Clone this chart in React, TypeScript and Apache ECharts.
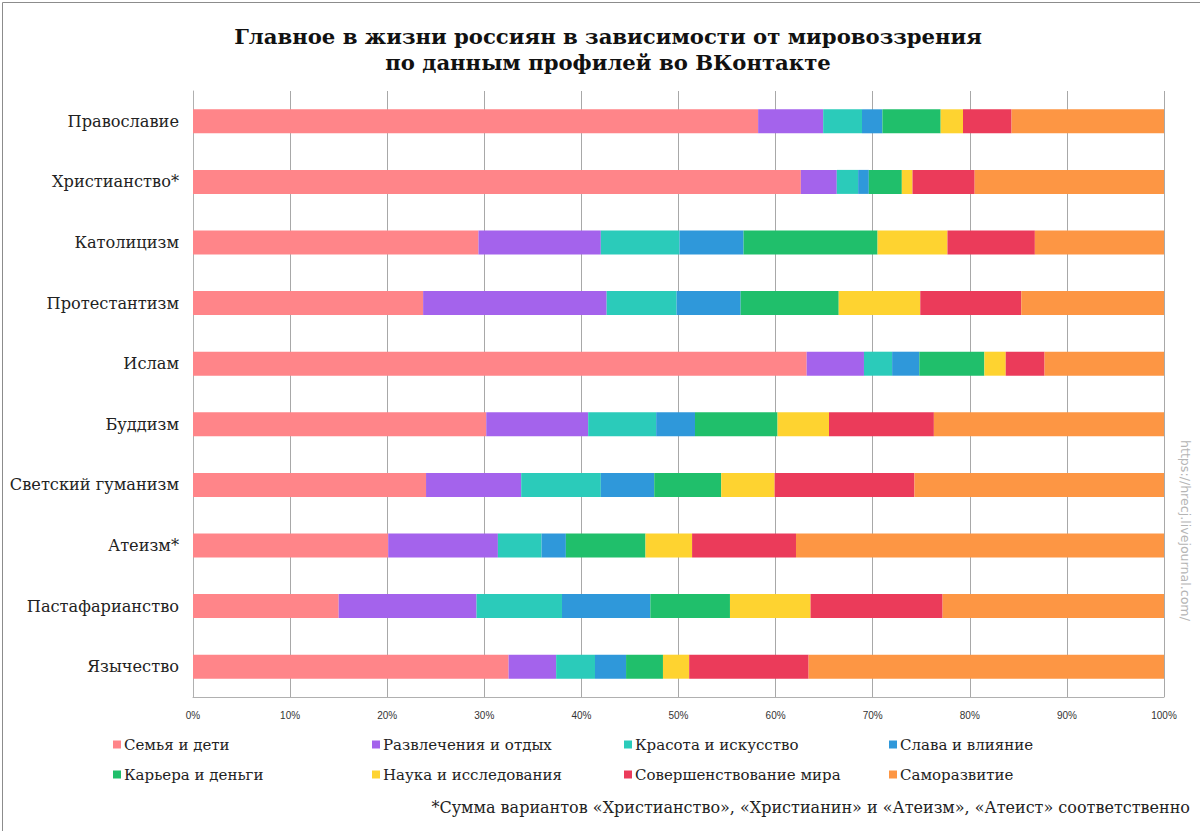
import React, { useEffect, useRef } from "react";
import * as echarts from "echarts";

const categories = [
  "Православие",
  "Христианство*",
  "Католицизм",
  "Протестантизм",
  "Ислам",
  "Буддизм",
  "Светский гуманизм",
  "Атеизм*",
  "Пастафарианство",
  "Язычество",
];

const seriesNames = [
  "Семья и дети",
  "Развлечения и отдых",
  "Красота и искусство",
  "Слава и влияние",
  "Карьера и деньги",
  "Наука и исследования",
  "Совершенствование мира",
  "Саморазвитие",
];

const colors = [
  "#FF8589",
  "#A463EC",
  "#2BCBBA",
  "#2F98DA",
  "#20BF6B",
  "#FED330",
  "#EB3B5A",
  "#FD9644",
];

const family = [58.2, 62.6, 29.4, 23.7, 63.2, 30.2, 24.0, 20.1, 15.0, 32.5];
const leisure = [6.7, 3.7, 12.6, 18.9, 5.9, 10.5, 9.8, 11.3, 14.2, 4.9];
const beauty = [4.0, 2.2, 8.1, 7.2, 2.9, 7.0, 8.2, 4.5, 8.8, 4.0];
const fame = [2.1, 1.1, 6.6, 6.6, 2.8, 4.0, 5.5, 2.5, 9.1, 3.2];
const career = [6.0, 3.4, 13.8, 10.1, 6.7, 8.5, 6.9, 8.2, 8.2, 3.8];
const science = [2.3, 1.1, 7.2, 8.4, 2.2, 5.3, 5.5, 4.8, 8.3, 2.7];
const worldImprove = [5.0, 6.4, 9.0, 10.4, 4.0, 10.8, 14.4, 10.7, 13.6, 12.3];
const selfDev = [15.7, 19.5, 13.3, 14.7, 12.3, 23.7, 25.7, 37.9, 22.8, 36.6];

const xTicks = [0, 10, 20, 30, 40, 50, 60, 70, 80, 90, 100];

const allValues = [family, leisure, beauty, fame, career, science, worldImprove, selfDev];

const SERIF = "'DejaVu Serif', 'Liberation Serif', serif";

export default function App() {
  const ref = useRef<HTMLDivElement>(null);

  useEffect(() => {
    if (!ref.current) return;
    const chart = echarts.init(ref.current, undefined, { renderer: "svg" });

    const legendColumns = [
      { left: 108, idx: [0, 4] },
      { left: 367, idx: [1, 5] },
      { left: 619, idx: [2, 6] },
      { left: 884, idx: [3, 7] },
    ];

    const option: any = {
      animation: false,
      backgroundColor: "#ffffff",
      title: {
        text: "Главное в жизни россиян в зависимости от мировоззрения\nпо данным профилей во ВКонтакте",
        left: 603,
        textAlign: "center",
        top: 18,
        textStyle: {
          fontFamily: SERIF,
          fontWeight: "bold",
          fontSize: 21.2,
          lineHeight: 26,
          color: "#111",
        },
      },
      grid: { left: 193, right: 36, top: 91, bottom: 134, containLabel: false },
      xAxis: {
        type: "value",
        min: 0,
        max: 100,
        interval: 10,
        axisLine: { show: true, lineStyle: { color: "#b0b0b0", width: 1 } },
        axisTick: { show: false },
        splitLine: { show: true, lineStyle: { color: "#a8a8a8", width: 1 } },
        axisLabel: {
          margin: 13,
          fontFamily: "'Liberation Sans Narrow', 'Liberation Sans', sans-serif",
          fontSize: 10,
          color: "#333",
          formatter: (v: number) => (xTicks.includes(v) ? v + "%" : ""),
        },
      },
      yAxis: {
        type: "category",
        data: categories,
        inverse: true,
        axisLine: { show: true, lineStyle: { color: "#b0b0b0", width: 1 } },
        axisTick: { show: false },
        splitLine: { show: false },
        axisLabel: {
          margin: 14,
          fontFamily: SERIF,
          fontSize: 16.2,
          color: "#222",
        },
      },
      legend: legendColumns.map((c) => ({
        orient: "vertical",
        left: c.left,
        top: 732,
        itemGap: 15,
        itemWidth: 8,
        itemHeight: 8,
        icon: "rect",
        selectedMode: false,
        data: c.idx.map((i) => seriesNames[i]),
        textStyle: { fontFamily: SERIF, fontSize: 15, color: "#222", padding: [0, 0, 0, -2] },
      })),
      series: seriesNames.map((name, i) => ({
        name,
        type: "bar",
        stack: "total",
        barWidth: 24,
        itemStyle: { color: colors[i] },
        emphasis: { disabled: true },
        data: allValues[i],
      })),
      graphic: [
        {
          type: "rect",
          left: 0,
          top: 0,
          shape: { width: 1199, height: 830 },
          style: { fill: "none", stroke: "#8c8c8c", lineWidth: 1 },
          silent: true,
        },
        {
          type: "text",
          right: 10,
          top: 799,
          style: {
            text: "*Сумма вариантов «Христианство», «Христианин» и «Атеизм», «Атеист» соответственно",
            fontFamily: SERIF,
            fontSize: 16,
            fill: "#222",
          },
        },
        {
          type: "text",
          x: 1185,
          y: 440,
          rotation: -Math.PI / 2,
          style: {
            text: "https://hrecj.livejournal.com/",
            fontFamily: "'DejaVu Sans', sans-serif",
            fontSize: 12.6,
            fill: "#b5b5b5",
            textAlign: "left",
            textVerticalAlign: "middle",
          },
        },
      ],
    };

    chart.setOption(option);
    return () => chart.dispose();
  }, []);

  return (
    <div
      ref={ref}
      style={{ position: "absolute", left: 0, top: 0, width: 1200, height: 831 }}
    />
  );
}
